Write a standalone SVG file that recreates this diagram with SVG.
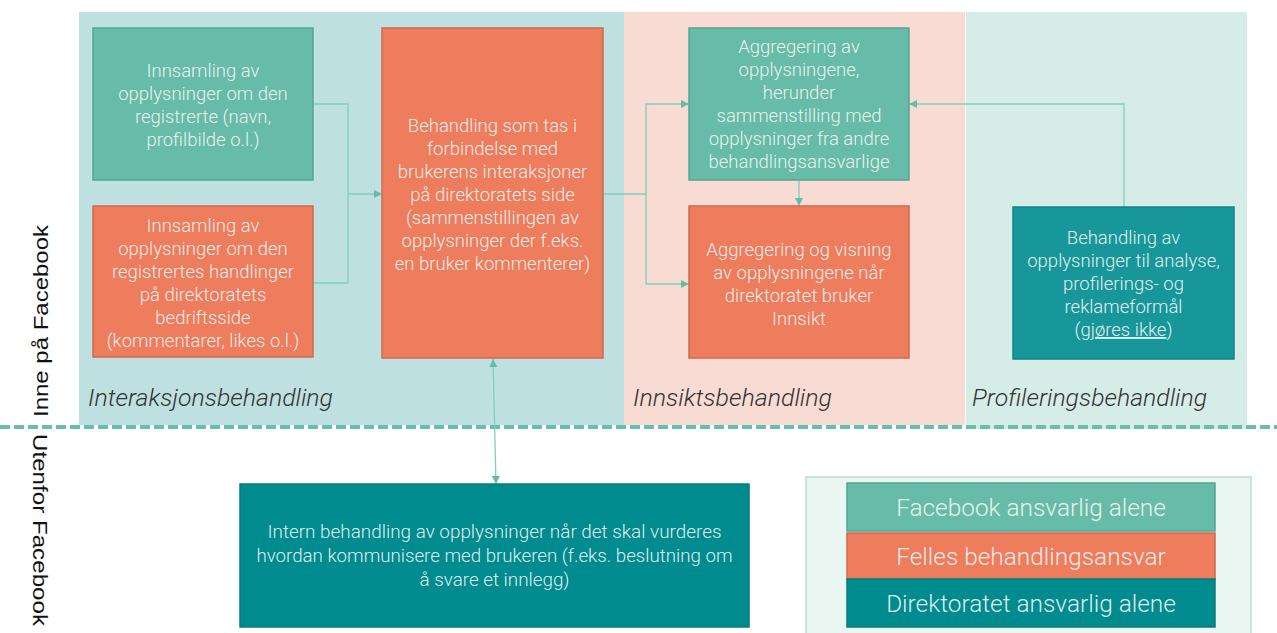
<svg xmlns="http://www.w3.org/2000/svg" width="1277" height="633" viewBox="0 0 1277 633">
<style>
.bt{font-family:Roboto,"Liberation Sans",sans-serif;font-weight:300;font-size:18.5px;fill:#f7f7f7;fill-opacity:.93;text-anchor:middle}
.sm{font-size:18px}
.lg{font-size:24.4px}
.it{font-family:Roboto,"Liberation Sans",sans-serif;font-weight:300;font-style:italic;font-size:23.5px;fill:#333}
.side{font-family:"Liberation Sans",Arial,sans-serif;font-size:21px;fill:#111;text-anchor:middle}
.g{fill:#66bca8;stroke:#55a592;stroke-width:1.5}
.o{fill:#ed7d5d;stroke:#cf6a4f;stroke-width:1.5}
.t{fill:#17979a;stroke:#128486;stroke-width:1.5}
.d{fill:#008b8f;stroke:#0a7b7e;stroke-width:1.5}
.c{fill:none;stroke:#7dd0ba;stroke-width:1.3}
</style>
<defs>
<marker id="ah" viewBox="0 0 8 8" refX="8" refY="4" markerWidth="8" markerHeight="8" markerUnits="userSpaceOnUse" orient="auto-start-reverse">
<path d="M0,0 L8,4 L0,8 z" fill="#66bca8"/>
</marker>
</defs>
<rect width="1277" height="633" fill="#ffffff"/>
<g id="panels">
<rect x="79" y="12" width="545" height="413" fill="#bfe0e1"/>
<rect x="624" y="12" width="341" height="413" fill="#f8dbd3"/>
<rect x="966" y="12" width="281" height="417" fill="#d6ede7"/>
<text class="it" x="88" y="406" textLength="245" lengthAdjust="spacingAndGlyphs">Interaksjonsbehandling</text>
<text class="it" x="633" y="406" textLength="199" lengthAdjust="spacingAndGlyphs">Innsiktsbehandling</text>
<text class="it" x="972" y="406" textLength="235" lengthAdjust="spacingAndGlyphs">Profileringsbehandling</text>
</g>
<line x1="0" y1="427" x2="1277" y2="427" stroke="#66bfa8" stroke-width="4" stroke-dasharray="10 4"/>
<text class="side" transform="translate(48,321) rotate(-90)" textLength="192" lengthAdjust="spacingAndGlyphs">Inne på Facebook</text>
<text class="side" transform="translate(33,530) rotate(90)" textLength="192" lengthAdjust="spacingAndGlyphs">Utenfor Facebook</text>
<g id="connectors">
<polyline class="c" points="313,104 348,104 348,283 313,283"/>
<line class="c" x1="348" y1="194" x2="382" y2="194" marker-end="url(#ah)"/>
<line class="c" x1="603" y1="194" x2="646" y2="194"/>
<polyline class="c" points="689,104 646,104 646,284 689,284" marker-start="url(#ah)" marker-end="url(#ah)"/>
<line class="c" x1="799" y1="180" x2="799" y2="206" marker-end="url(#ah)"/>
<polyline class="c" points="1124,207 1124,104 909,104" marker-end="url(#ah)"/>
<line class="c" x1="493" y1="359" x2="496" y2="484" marker-start="url(#ah)" marker-end="url(#ah)"/>
</g>
<g id="n1">
<rect class="g" x="93" y="28" width="220" height="152"/>
<text class="bt"><tspan x="203" y="77">Innsamling av</tspan><tspan x="203" y="100">opplysninger om den</tspan><tspan x="203" y="123">registrerte (navn,</tspan><tspan x="203" y="146">profilbilde o.l.)</tspan></text>
</g>
<g id="n2">
<rect class="o" x="93" y="206" width="220" height="151"/>
<text class="bt"><tspan x="203" y="232">Innsamling av</tspan><tspan x="203" y="255">opplysninger om den</tspan><tspan x="203" y="278">registrertes handlinger</tspan><tspan x="203" y="301">på direktoratets</tspan><tspan x="203" y="324">bedriftsside</tspan><tspan x="203" y="347">(kommentarer, likes o.l.)</tspan></text>
</g>
<g id="n3">
<rect class="o" x="382" y="28" width="221" height="330"/>
<text class="bt"><tspan x="492.5" y="132">Behandling som tas i</tspan><tspan x="492.5" y="155">forbindelse med</tspan><tspan x="492.5" y="178">brukerens interaksjoner</tspan><tspan x="492.5" y="201">på direktoratets side</tspan><tspan x="492.5" y="224">(sammenstillingen av</tspan><tspan x="492.5" y="247">opplysninger der f.eks.</tspan><tspan x="492.5" y="270">en bruker kommenterer)</tspan></text>
</g>
<g id="n4">
<rect class="g" x="689" y="28" width="220" height="152"/>
<text class="bt"><tspan x="799" y="53">Aggregering av</tspan><tspan x="799" y="76">opplysningene,</tspan><tspan x="799" y="99">herunder</tspan><tspan x="799" y="122">sammenstilling med</tspan><tspan x="799" y="145">opplysninger fra andre</tspan><tspan x="799" y="168">behandlingsansvarlige</tspan></text>
</g>
<g id="n5">
<rect class="o" x="689" y="206" width="220" height="152"/>
<text class="bt"><tspan x="799" y="256">Aggregering og visning</tspan><tspan x="799" y="279">av opplysningene når</tspan><tspan x="799" y="302">direktoratet bruker</tspan><tspan x="799" y="325">Innsikt</tspan></text>
</g>
<g id="n6">
<rect class="t" x="1013" y="207" width="221" height="152"/>
<text class="bt"><tspan x="1123.5" y="244">Behandling av</tspan><tspan x="1123.5" y="267">opplysninger til analyse,</tspan><tspan x="1123.5" y="290">profilerings- og</tspan><tspan x="1123.5" y="313">reklameformål</tspan><tspan x="1123.5" y="336">(<tspan text-decoration="underline">gjøres ikke</tspan>)</tspan></text>
</g>
<g id="n7">
<rect class="d" x="240" y="484" width="509" height="143"/>
<text class="bt sm" x="494.5" y="538" textLength="454" lengthAdjust="spacingAndGlyphs">Intern behandling av opplysninger når det skal vurderes</text>
<text class="bt sm" x="494.5" y="562" textLength="476" lengthAdjust="spacingAndGlyphs">hvordan kommunisere med brukeren (f.eks. beslutning om</text>
<text class="bt sm" x="494.5" y="586" textLength="150" lengthAdjust="spacingAndGlyphs">å svare et innlegg)</text>
</g>
<g id="legend">
<rect x="806" y="477" width="445" height="160" fill="#e9f6f1" stroke="#bcdcd2" stroke-width="1.5"/>
<rect class="g" x="847" y="483" width="368" height="48"/>
<rect class="o" x="847" y="533" width="368" height="46"/>
<rect class="d" x="847" y="579" width="368" height="48"/>
<text class="bt lg" x="1031" y="516">Facebook ansvarlig alene</text>
<text class="bt lg" x="1031" y="565">Felles behandlingsansvar</text>
<text class="bt lg" x="1031" y="612">Direktoratet ansvarlig alene</text>
</g>
</svg>
